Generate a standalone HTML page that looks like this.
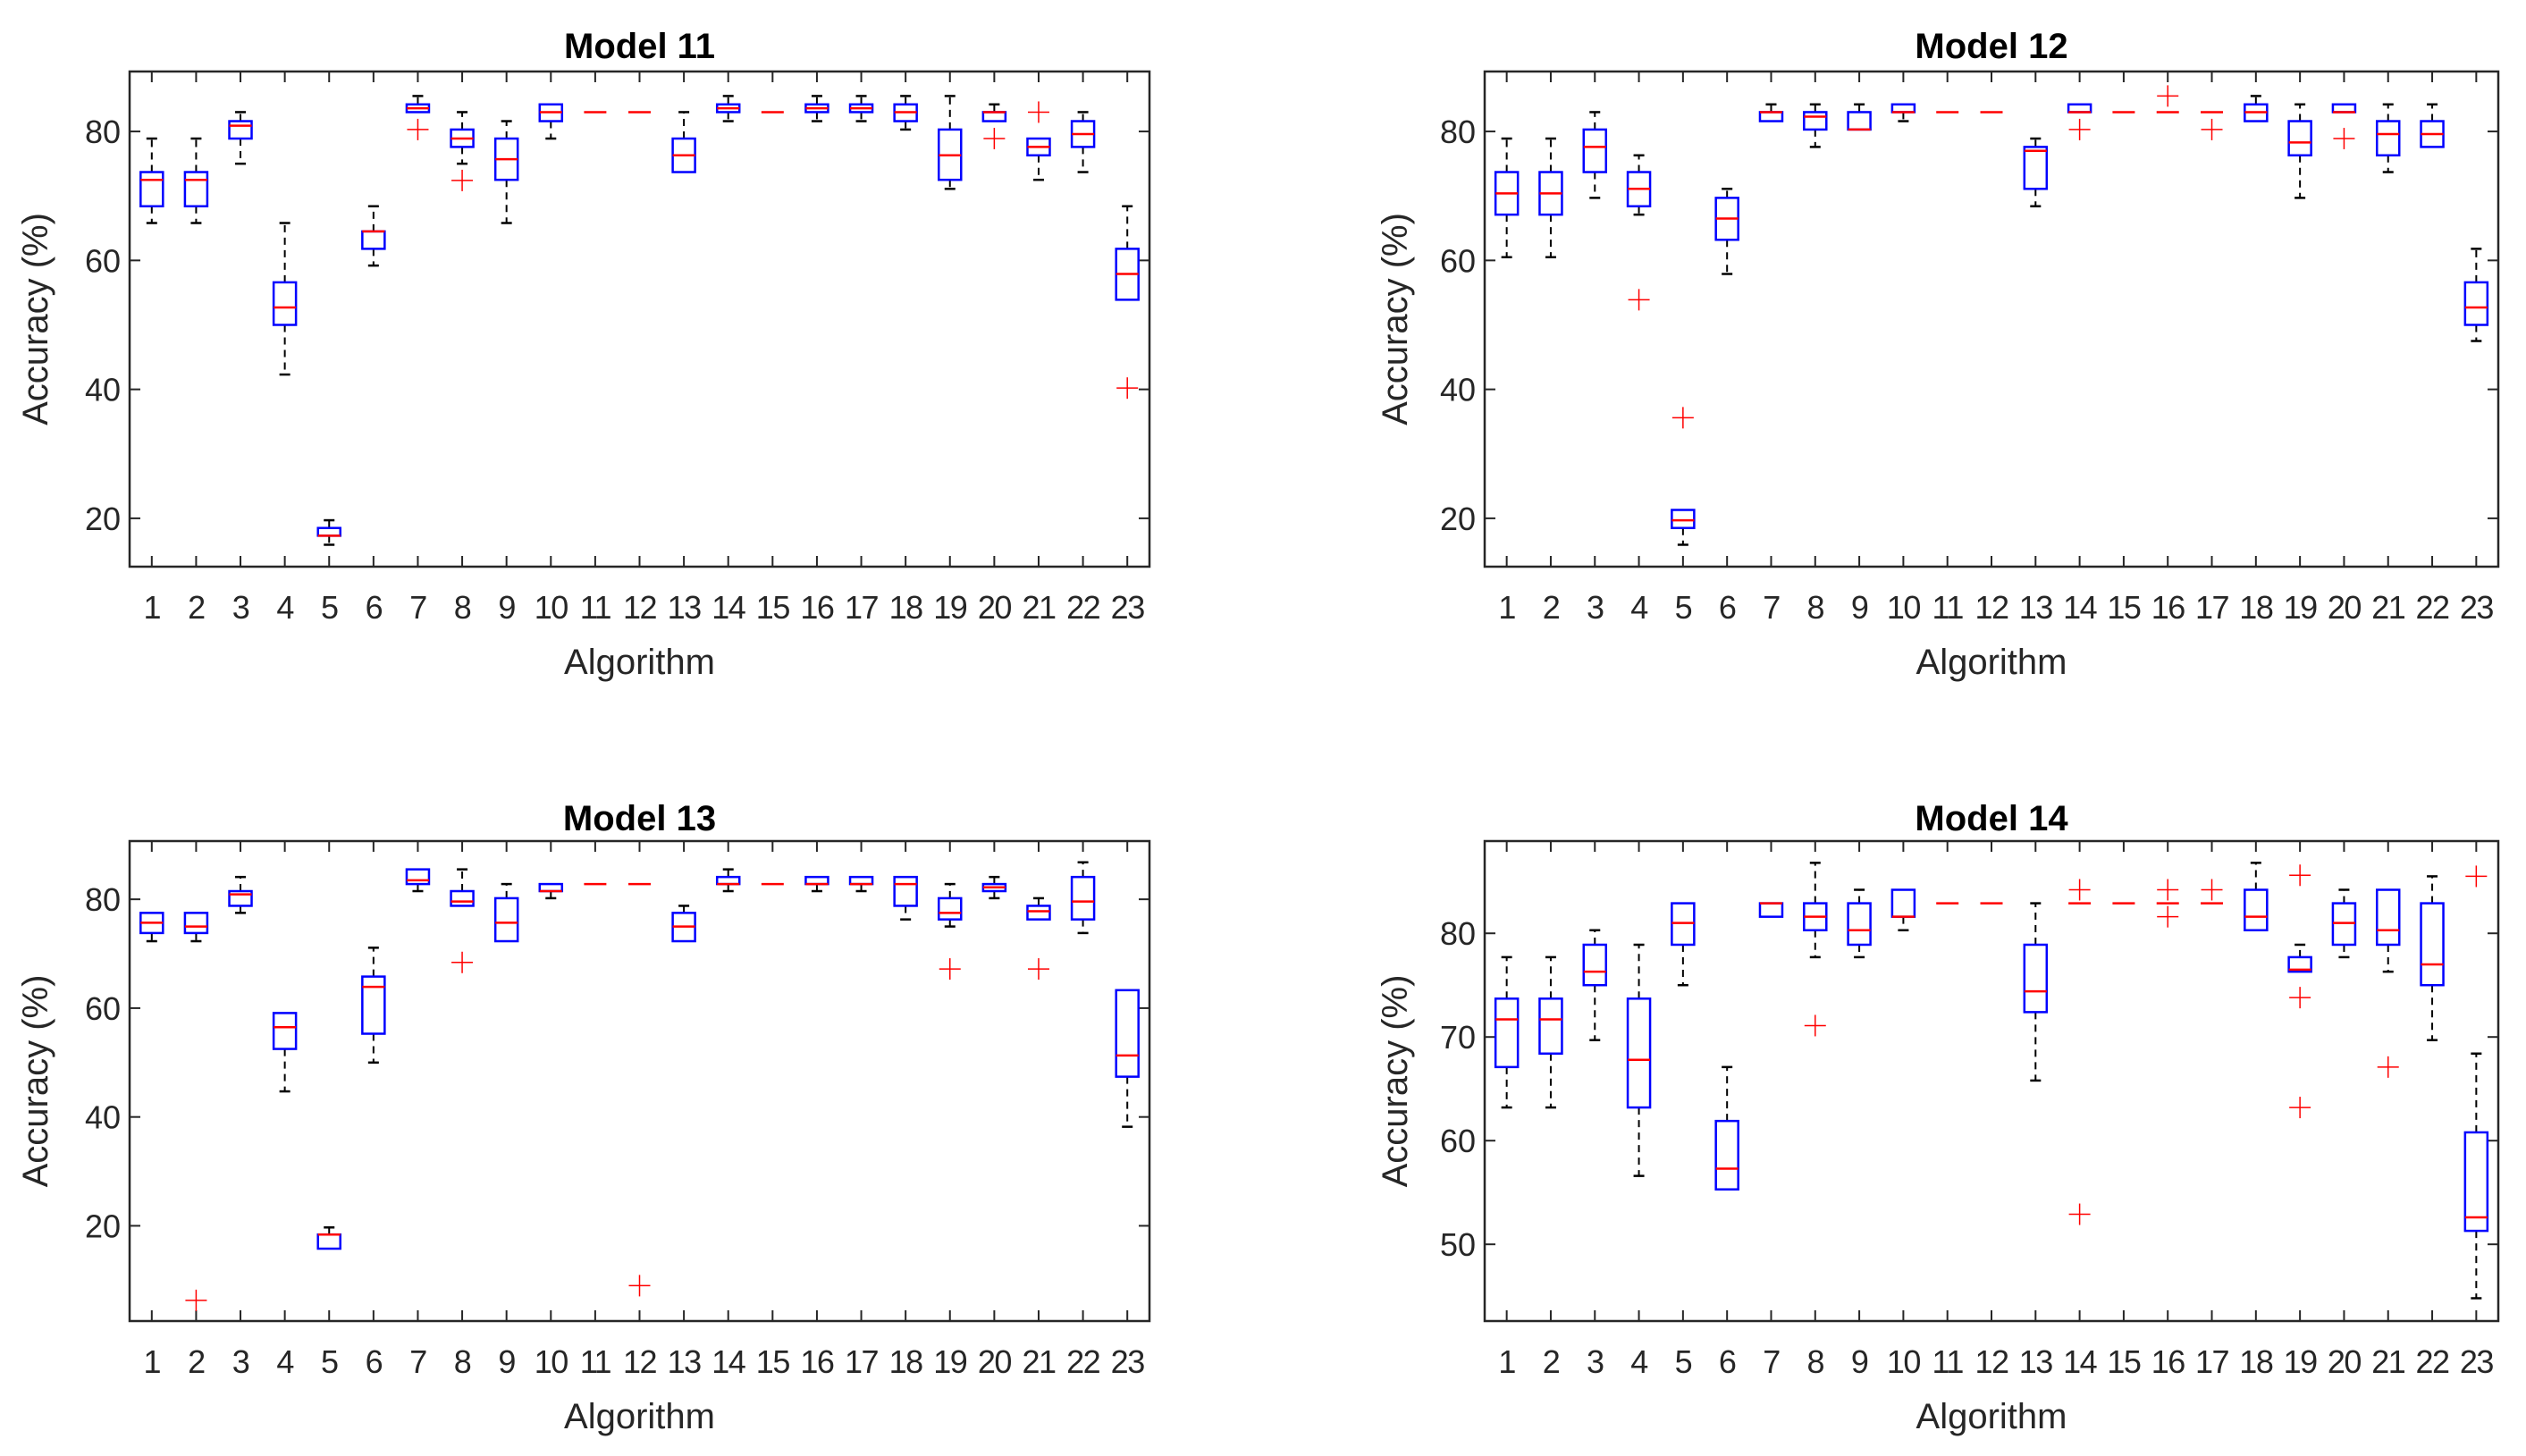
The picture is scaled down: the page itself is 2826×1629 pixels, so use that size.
<!DOCTYPE html>
<html><head><meta charset="utf-8">
<style>
html,body{margin:0;padding:0;background:#fff;}
svg{display:block;font-family:"Liberation Sans",Arial,sans-serif;}
</style></head>
<body>
<svg id="fig" width="2826" height="1629" viewBox="0 0 2826 1629" xmlns="http://www.w3.org/2000/svg"></svg>
<script>
// Data arrays: [lowerWhisker, q1, median, q3, upperWhisker] per algorithm, plus outliers
const categories = ["1","2","3","4","5","6","7","8","9","10","11","12","13","14","15","16","17","18","19","20","21","22","23"];
const m11Stats = [
[65.8,68.4,72.5,73.7,78.9],[65.8,68.4,72.5,73.7,78.9],[75,78.9,80.9,81.6,83],[42.3,50,52.7,56.6,65.8],[15.9,17.3,17.3,18.5,19.7],
[59.2,61.8,64.5,64.5,68.4],[83,83,83.6,84.2,85.5],[75,77.6,78.9,80.3,83],[65.8,72.5,75.7,78.9,81.6],[78.9,81.6,83,84.2,84.2],
[83,83,83,83,83],[83,83,83,83,83],[73.7,73.7,76.3,78.9,83],[81.6,83,83.6,84.2,85.5],[83,83,83,83,83],
[81.6,83,83.6,84.2,85.5],[81.6,83,83.6,84.2,85.5],[80.3,81.6,83,84.2,85.5],[71.1,72.5,76.3,80.3,85.5],[81.6,81.6,83,83,84.2],
[72.5,76.3,77.6,78.9,78.9],[73.7,77.6,79.6,81.6,83],[53.9,53.9,57.9,61.8,68.4]];
const m11Out = [[],[],[],[],[],[],[80.3],[72.4],[],[],[],[],[],[],[],[],[],[],[],[78.9],[83],[],[40.2]];
const m12Stats = [
[60.5,67.1,70.4,73.7,78.9],[60.5,67.1,70.4,73.7,78.9],[69.7,73.7,77.6,80.3,83],[67.1,68.4,71.1,73.7,76.3],[15.9,18.5,19.7,21.3,21.3],
[57.9,63.2,66.5,69.7,71.1],[81.6,81.6,83,83,84.2],[77.6,80.3,82.3,83,84.2],[80.3,80.3,80.3,83,84.2],[81.6,83,83,84.2,84.2],
[83,83,83,83,83],[83,83,83,83,83],[68.4,71.1,77,77.6,78.9],[83,83,83,84.2,84.2],[83,83,83,83,83],
[83,83,83,83,83],[83,83,83,83,83],[81.6,81.6,83,84.2,85.5],[69.7,76.3,78.3,81.6,84.2],[83,83,83,84.2,84.2],
[73.7,76.3,79.6,81.6,84.2],[77.6,77.6,79.6,81.6,84.2],[47.5,50,52.7,56.6,61.8]];
const m12Out = [[],[],[],[53.9],[35.6],[],[],[],[],[],[],[],[],[80.3],[],[85.5],[80.3],[],[],[78.9],[],[],[]];
const m13Stats = [
[72.3,73.8,75.7,77.5,77.5],[72.3,73.8,75,77.5,77.5],[77.5,78.8,80.9,81.5,84.1],[44.7,52.5,56.5,59.1,59.1],[15.8,15.8,18.4,18.4,19.7],
[50,55.3,63.9,65.8,71.1],[81.5,82.8,83.5,85.5,85.5],[78.8,78.8,79.6,81.5,85.5],[72.3,72.3,75.7,80.2,82.8],[80.2,81.5,81.5,82.8,82.8],
[82.8,82.8,82.8,82.8,82.8],[82.8,82.8,82.8,82.8,82.8],[72.3,72.3,75,77.5,78.8],[81.5,82.8,82.8,84.1,85.5],[82.8,82.8,82.8,82.8,82.8],
[81.5,82.8,82.8,84.1,84.1],[81.5,82.8,82.8,84.1,84.1],[76.3,78.8,82.8,84.1,84.1],[75,76.3,77.5,80.2,82.8],[80.2,81.5,82.2,82.8,84.1],
[76.3,76.3,77.8,78.8,80.2],[73.8,76.3,79.6,84.1,86.8],[38.2,47.4,51.3,63.3,63.3]];
const m13Out = [[],[6.3],[],[],[],[],[],[68.4],[],[],[],[9],[],[],[],[],[],[],[67.2],[],[67.2],[],[]];
const m14Stats = [
[63.2,67.1,71.7,73.7,77.7],[63.2,68.4,71.7,73.7,77.7],[69.7,75,76.3,78.9,80.3],[56.6,63.2,67.8,73.7,78.9],[75,78.9,81,82.9,82.9],
[55.3,55.3,57.3,61.9,67.1],[81.6,81.6,82.9,82.9,82.9],[77.7,80.3,81.6,82.9,86.8],[77.7,78.9,80.3,82.9,84.2],[80.3,81.6,81.6,84.2,84.2],
[82.9,82.9,82.9,82.9,82.9],[82.9,82.9,82.9,82.9,82.9],[65.8,72.4,74.4,78.9,82.9],[82.9,82.9,82.9,82.9,82.9],[82.9,82.9,82.9,82.9,82.9],
[82.9,82.9,82.9,82.9,82.9],[82.9,82.9,82.9,82.9,82.9],[80.3,80.3,81.6,84.2,86.8],[76.3,76.3,76.5,77.7,78.9],[77.7,78.9,81,82.9,84.2],
[76.3,78.9,80.3,84.2,84.2],[69.7,75,77,82.9,85.5],[44.8,51.3,52.6,60.8,68.4]];
const m14Out = [[],[],[],[],[],[],[],[71.1],[],[],[],[],[],[84.2,52.9],[],[84.2,81.6],[84.2],[],[85.6,73.8,63.2],[],[67.1],[],[85.5]];
const m11Ticks = [20,40,60,80];
const m12Ticks = [20,40,60,80];
const m13Ticks = [20,40,60,80];
const m14Ticks = [50,60,70,80];
const titles = ["Model 11","Model 12","Model 13","Model 14"];

const panels = [
 {title:titles[0], stats:m11Stats, out:m11Out, ticks:m11Ticks, ymin:12.5, ymax:89.3, L:145, R:1286, T:80, B:634, ylabX:40, titleY:65, xtY:692, xlY:754},
 {title:titles[1], stats:m12Stats, out:m12Out, ticks:m12Ticks, ymin:12.5, ymax:89.3, L:1661, R:2795, T:80, B:634, ylabX:1561, titleY:65, xtY:692, xlY:754},
 {title:titles[2], stats:m13Stats, out:m13Out, ticks:m13Ticks, ymin:2.5, ymax:90.7, L:145, R:1286, T:941, B:1478, ylabX:40, titleY:929, xtY:1536, xlY:1598},
 {title:titles[3], stats:m14Stats, out:m14Out, ticks:m14Ticks, ymin:42.6, ymax:88.9, L:1661, R:2795, T:941, B:1478, ylabX:1561, titleY:929, xtY:1536, xlY:1598}
];
const NS="http://www.w3.org/2000/svg";
const svg=document.getElementById('fig');
function mk(tag,attrs,parent){const e=document.createElementNS(NS,tag);for(const k in attrs)e.setAttribute(k,attrs[k]);(parent||svg).appendChild(e);return e;}

panels.forEach((p,pi)=>{
  const g=mk('g',{});
  
  
  const n=categories.length;
  const xs=i=>p.L+(i+0.5)*(p.R-p.L)/n;
  const ys=v=>p.B-(v-p.ymin)/(p.ymax-p.ymin)*(p.B-p.T);
  const t=mk('text',{x:(p.L+p.R)/2,y:p.titleY,'text-anchor':'middle','font-size':40,'font-weight':'bold',fill:'#000'},g);
  t.textContent=p.title;
  
  
  const ax=mk('rect',{x:p.L,y:p.T,width:p.R-p.L,height:p.B-p.T,fill:'none',stroke:'#262626','stroke-width':2.5},g);
  
  
  categories.forEach((c,i)=>{
    const x=xs(i);
    mk('line',{x1:x,y1:p.B,x2:x,y2:p.B-12,stroke:'#262626','stroke-width':2},g);
    mk('line',{x1:x,y1:p.T,x2:x,y2:p.T+12,stroke:'#262626','stroke-width':2},g);
    const tl=mk('text',{x:x,y:p.xtY,'text-anchor':'middle','font-size':36,fill:'#262626','letter-spacing':-1.5},g);
    tl.textContent=c;
    
    
  });
  p.ticks.forEach(v=>{
    const y=ys(v);
    mk('line',{x1:p.L,y1:y,x2:p.L+12,y2:y,stroke:'#262626','stroke-width':2},g);
    mk('line',{x1:p.R,y1:y,x2:p.R-12,y2:y,stroke:'#262626','stroke-width':2},g);
    const tl=mk('text',{x:p.L-10,y:y+13,'text-anchor':'end','font-size':36,fill:'#262626'},g);
    tl.textContent=v;
    
    
  });
  const xl=mk('text',{x:(p.L+p.R)/2,y:p.xlY,'text-anchor':'middle','font-size':40,fill:'#262626'},g);
  xl.textContent='Algorithm';
  
  
  const cy=(p.T+p.B)/2;
  const yl=mk('text',{x:p.ylabX,y:cy,'text-anchor':'middle','font-size':40,fill:'#262626','dominant-baseline':'central',transform:`rotate(-90 ${p.ylabX} ${cy})`},g);
  yl.textContent='Accuracy (%)';
  
  
  const hw=12.5, cw=6;
  p.stats.forEach((s,i)=>{
    const x=xs(i);
    const bg=mk('g',{},g);
    
    
    const [lo,q1,md,q3,hi]=s;
    if(hi>q3){
      mk('line',{x1:x,y1:ys(q3),x2:x,y2:ys(hi),stroke:'#000','stroke-width':2,'stroke-dasharray':'8,6'},bg);
      mk('line',{x1:x-cw,y1:ys(hi),x2:x+cw,y2:ys(hi),stroke:'#000','stroke-width':2.5},bg);
    }
    if(lo<q1){
      mk('line',{x1:x,y1:ys(q1),x2:x,y2:ys(lo),stroke:'#000','stroke-width':2,'stroke-dasharray':'8,6'},bg);
      mk('line',{x1:x-cw,y1:ys(lo),x2:x+cw,y2:ys(lo),stroke:'#000','stroke-width':2.5},bg);
    }
    if(q3>q1){
      mk('rect',{x:x-hw,y:ys(q3),width:2*hw,height:ys(q1)-ys(q3),fill:'none',stroke:'#0000ff','stroke-width':2.5},bg);
    }
    mk('line',{x1:x-hw,y1:ys(md),x2:x+hw,y2:ys(md),stroke:'#ff0000','stroke-width':2.5},bg);
    p.out[i].forEach(o=>{
      const y=ys(o);
      const og=mk('g',{},bg);
      
      
      mk('line',{x1:x-12,y1:y,x2:x+12,y2:y,stroke:'#ff0000','stroke-width':1.5},og);
      mk('line',{x1:x,y1:y-12,x2:x,y2:y+12,stroke:'#ff0000','stroke-width':1.5},og);
    });
  });
});
</script>
</body></html>
